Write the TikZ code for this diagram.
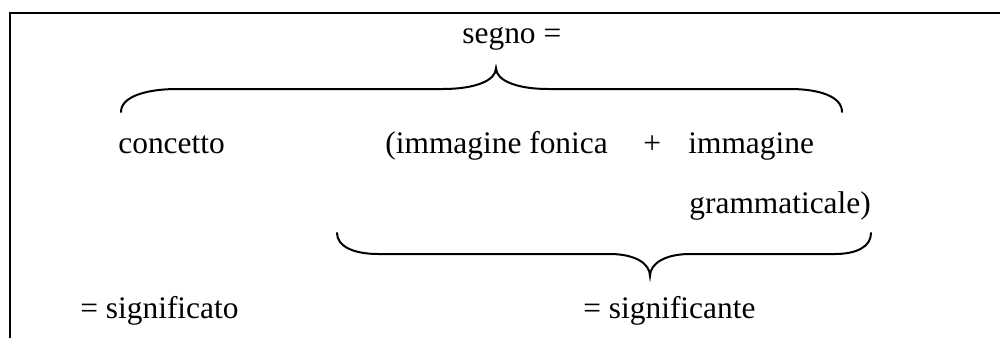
\documentclass[tikz,border=0pt]{standalone}
\usepackage{fontspec}
\setmainfont{Liberation Serif}
\begin{document}
\begin{tikzpicture}[x=0.5pt,y=-0.5pt,
  lbl/.style={anchor=base west,inner sep=0pt,font=\fontsize{15.7}{18}\selectfont},
  brace/.style={line width=1pt,line cap=round},
  frame/.style={line width=1.2pt}]
\useasboundingbox (0,0) rectangle (1000,338);
% frame (top and left sides)
\draw[frame] (10,338) -- (10,13) -- (1000,13);
% texts
\node[lbl] (segno) at (462,43) {segno =};
\node[lbl] (concetto) at (118,153) {concetto};
\node[lbl] (fonica) at (385,153) {(immagine fonica};
\node[lbl] (plus) at (643,153) {+};
\node[lbl] (imm) at (688,153) {immagine};
\node[lbl] (gramm) at (689,213) {grammaticale)};
\node[lbl] (sigto) at (80,318) {= significato};
\node[lbl] (sigte) at (583,318) {= significante};
% top brace
\draw[brace] (121,112) .. controls (121,96) and (148,89) .. (177,89) -- (443,89)
  .. controls (474,89) and (496,81) .. (496,68)
  .. controls (496,81) and (518,89) .. (548,89) -- (790,89)
  .. controls (818,89) and (842,96) .. (842,112);
% bottom brace
\draw[brace] (337,233) .. controls (337,247) and (355,254) .. (378,254) -- (610,254)
  .. controls (634,254) and (650,263) .. (650,276)
  .. controls (650,263) and (666,254) .. (690,254) -- (835,254)
  .. controls (856,254) and (871,247) .. (871,233);
\end{tikzpicture}
\end{document}
